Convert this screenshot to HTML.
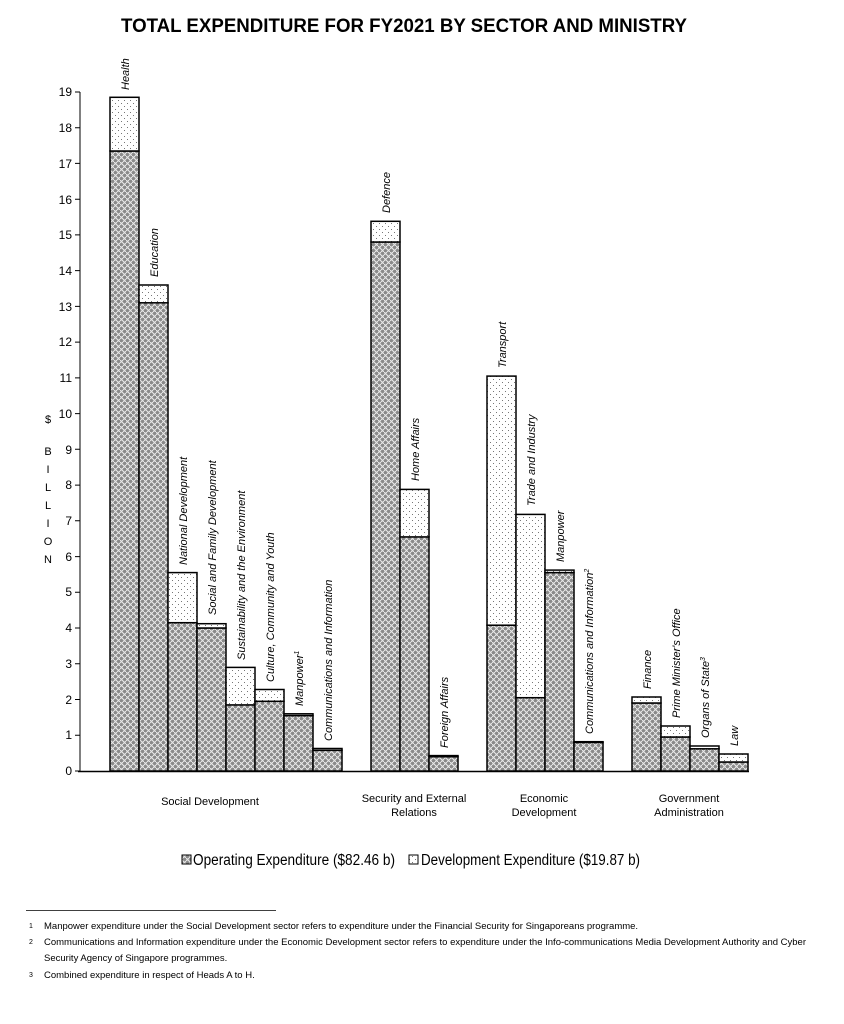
<!DOCTYPE html>
<html><head><meta charset="utf-8"><style>
body{margin:0;background:#fff;}
svg{display:block;font-family:"Liberation Sans",Arial,sans-serif;}
</style></head><body>
<svg width="844" height="1024" viewBox="0 0 844 1024" xmlns="http://www.w3.org/2000/svg">
<defs>
<pattern id="op" width="6" height="6" patternUnits="userSpaceOnUse">
<rect width="6" height="6" fill="#8a8a8a"/>
<path d="M0 3 L3 0 M3 6 L6 3 M0 0 L6 6" stroke="#e8e8e8" stroke-width="1.1" fill="none"/>
</pattern>
<pattern id="dv" width="6" height="6" patternUnits="userSpaceOnUse">
<rect width="6" height="6" fill="#fff"/>
<rect x="1" y="1" width="1" height="1" fill="#777"/>
<rect x="4" y="4" width="1" height="1" fill="#777"/>
</pattern>
</defs>
<text x="404" y="32" font-size="19" font-weight="bold" text-anchor="middle" textLength="566" lengthAdjust="spacingAndGlyphs">TOTAL EXPENDITURE FOR FY2021 BY SECTOR AND MINISTRY</text>
<g font-size="12" text-anchor="end">
<text x="72" y="775">0</text><text x="72" y="739">1</text><text x="72" y="704">2</text><text x="72" y="668">3</text><text x="72" y="632">4</text><text x="72" y="596">5</text><text x="72" y="561">6</text><text x="72" y="525">7</text><text x="72" y="489">8</text><text x="72" y="454">9</text><text x="72" y="418">10</text><text x="72" y="382">11</text><text x="72" y="346">12</text><text x="72" y="311">13</text><text x="72" y="275">14</text><text x="72" y="239">15</text><text x="72" y="204">16</text><text x="72" y="168">17</text><text x="72" y="132">18</text><text x="72" y="96">19</text>
</g>
<g stroke="#000" stroke-width="1">
<path d="M80 92 V771 M75 771H80 M75 735.3H80 M75 699.5H80 M75 663.8H80 M75 628H80 M75 592.3H80 M75 556.6H80 M75 520.8H80 M75 485.1H80 M75 449.3H80 M75 413.6H80 M75 377.9H80 M75 342.1H80 M75 306.4H80 M75 270.6H80 M75 234.9H80 M75 199.2H80 M75 163.4H80 M75 127.7H80 M75 92H80"/>
<path d="M78 771.5H749" stroke-width="1.5"/>
</g>
<g font-size="11" text-anchor="middle">
<text x="48" y="423">$</text><text x="48" y="455">B</text><text x="48" y="473">I</text><text x="48" y="491">L</text><text x="48" y="509">L</text><text x="48" y="527">I</text><text x="48" y="545">O</text><text x="48" y="563">N</text>
</g>
<g stroke="#000" stroke-width="1.5">
<rect x="110" y="151" width="29" height="620" fill="url(#op)"/>
<rect x="110" y="97.3" width="29" height="53.7" fill="url(#dv)"/>
<rect x="139" y="302.8" width="29" height="468.2" fill="url(#op)"/>
<rect x="139" y="285" width="29" height="17.8" fill="url(#dv)"/>
<rect x="168" y="622.7" width="29" height="148.3" fill="url(#op)"/>
<rect x="168" y="572.6" width="29" height="50.1" fill="url(#dv)"/>
<rect x="197" y="628" width="29" height="143" fill="url(#op)"/>
<rect x="197" y="623.7" width="29" height="4.3" fill="url(#dv)"/>
<rect x="226" y="704.9" width="29" height="66.1" fill="url(#op)"/>
<rect x="226" y="667.4" width="29" height="37.5" fill="url(#dv)"/>
<rect x="255" y="701.3" width="29" height="69.7" fill="url(#op)"/>
<rect x="255" y="689.5" width="29" height="11.8" fill="url(#dv)"/>
<rect x="284" y="715.6" width="29" height="55.4" fill="url(#op)"/>
<rect x="284" y="713.8" width="29" height="1.8" fill="url(#dv)"/>
<rect x="313" y="750.3" width="29" height="20.7" fill="url(#op)"/>
<rect x="313" y="748.5" width="29" height="1.8" fill="url(#dv)"/>
<rect x="371" y="242" width="29" height="529" fill="url(#op)"/>
<rect x="371" y="221.3" width="29" height="20.7" fill="url(#dv)"/>
<rect x="400" y="536.9" width="29" height="234.1" fill="url(#op)"/>
<rect x="400" y="489.4" width="29" height="47.5" fill="url(#dv)"/>
<rect x="429" y="756.7" width="29" height="14.3" fill="url(#op)"/>
<rect x="429" y="755.6" width="29" height="1.1" fill="url(#dv)"/>
<rect x="487" y="625.2" width="29" height="145.8" fill="url(#op)"/>
<rect x="487" y="376.1" width="29" height="249.1" fill="url(#dv)"/>
<rect x="516" y="697.7" width="29" height="73.3" fill="url(#op)"/>
<rect x="516" y="514.4" width="29" height="183.3" fill="url(#dv)"/>
<rect x="545" y="572.6" width="29" height="198.4" fill="url(#op)"/>
<rect x="545" y="570.1" width="29" height="2.5" fill="url(#dv)"/>
<rect x="574" y="742.4" width="29" height="28.6" fill="url(#op)"/>
<rect x="574" y="741.7" width="29" height="0.7" fill="url(#dv)"/>
<rect x="632" y="703" width="29" height="68" fill="url(#op)"/>
<rect x="632" y="697" width="29" height="6" fill="url(#dv)"/>
<rect x="661" y="737" width="29" height="34" fill="url(#op)"/>
<rect x="661" y="726" width="29" height="11" fill="url(#dv)"/>
<rect x="690" y="748.8" width="29" height="22.2" fill="url(#op)"/>
<rect x="690" y="746" width="29" height="2.8" fill="url(#dv)"/>
<rect x="719" y="762" width="29" height="9" fill="url(#op)"/>
<rect x="719" y="754" width="29" height="8" fill="url(#dv)"/>
</g>
<g font-size="11" font-style="italic">
<text transform="translate(129,90) rotate(-90)">Health</text>
<text transform="translate(158,277) rotate(-90)">Education</text>
<text transform="translate(187,565) rotate(-90)">National Development</text>
<text transform="translate(216,615) rotate(-90)">Social and Family Development</text>
<text transform="translate(245,660) rotate(-90)">Sustainability and the Environment</text>
<text transform="translate(274,682) rotate(-90)">Culture, Community and Youth</text>
<text transform="translate(303,706) rotate(-90)">Manpower<tspan font-size="7" dy="-4">1</tspan></text>
<text transform="translate(332,741) rotate(-90)">Communications and Information</text>
<text transform="translate(390,213) rotate(-90)">Defence</text>
<text transform="translate(419,481) rotate(-90)">Home Affairs</text>
<text transform="translate(448,748) rotate(-90)">Foreign Affairs</text>
<text transform="translate(506,368) rotate(-90)">Transport</text>
<text transform="translate(535,506) rotate(-90)">Trade and Industry</text>
<text transform="translate(564,562) rotate(-90)">Manpower</text>
<text transform="translate(593,734) rotate(-90)">Communications and Information<tspan font-size="7" dy="-4">2</tspan></text>
<text transform="translate(651,689) rotate(-90)">Finance</text>
<text transform="translate(680,718) rotate(-90)">Prime Minister's Office</text>
<text transform="translate(709,738) rotate(-90)">Organs of State<tspan font-size="7" dy="-4">3</tspan></text>
<text transform="translate(738,746) rotate(-90)">Law</text>
</g>
<g font-size="11" text-anchor="middle">
<text x="210" y="805">Social Development</text>
<text x="414" y="802">Security and External</text><text x="414" y="816">Relations</text>
<text x="544" y="802">Economic</text><text x="544" y="816">Development</text>
<text x="689" y="802">Government</text><text x="689" y="816">Administration</text>
</g>
<rect x="182" y="855" width="9" height="9" fill="url(#op)" stroke="#000"/>
<text x="193" y="865" font-size="15.5" textLength="202" lengthAdjust="spacingAndGlyphs">Operating Expenditure ($82.46 b)</text>
<rect x="409" y="855" width="9" height="9" fill="url(#dv)" stroke="#000"/>
<text x="421" y="865" font-size="15.5" textLength="219" lengthAdjust="spacingAndGlyphs">Development Expenditure ($19.87 b)</text>
<line x1="26" y1="910.5" x2="276" y2="910.5" stroke="#000" stroke-width="0.8"/>
<g font-size="9.5">
<text x="29" y="928" font-size="7">1</text>
<text x="44" y="929">Manpower expenditure under the Social Development sector refers to expenditure under the Financial Security for Singaporeans programme.</text>
<text x="29" y="944" font-size="7">2</text>
<text x="44" y="945">Communications and Information expenditure under the Economic Development sector refers to expenditure under the Info-communications Media Development Authority and Cyber</text>
<text x="44" y="961">Security Agency of Singapore programmes.</text>
<text x="29" y="977" font-size="7">3</text>
<text x="44" y="978">Combined expenditure in respect of Heads A to H.</text>
</g>
</svg>
</body></html>
